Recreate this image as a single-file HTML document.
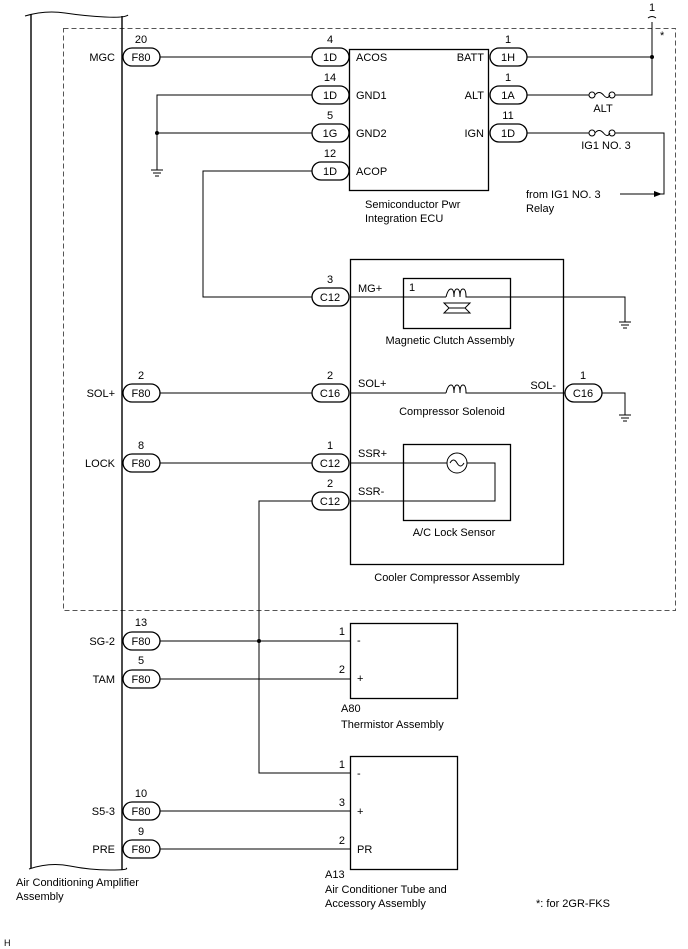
<!DOCTYPE html>
<html><head><meta charset="utf-8"><style>
html,body{margin:0;padding:0;background:#fff}
svg{display:block}
text{font-family:"Liberation Sans",Arial,sans-serif;font-size:11px;fill:#000}
.m{text-anchor:middle}.e{text-anchor:end}
</style></head><body>
<svg width="688" height="949" viewBox="0 0 688 949" xmlns="http://www.w3.org/2000/svg">
<defs>
<g id="pl"><rect x="0" y="-9" width="37" height="18" rx="9" fill="#fff" stroke="#000" stroke-width="1.3"/></g>
<g id="gnd"><line x1="0" y1="0" x2="0" y2="12" stroke="#000"/><line x1="-6" y1="12" x2="6" y2="12" stroke="#000"/><line x1="-4" y1="15" x2="4" y2="15" stroke="#000"/><line x1="-2" y1="18" x2="2" y2="18" stroke="#000"/></g>
</defs>
<g fill="none" stroke="#000">
<rect x="63.5" y="28.5" width="612" height="582" stroke-dasharray="5,3" stroke="#555"/>
<path d="M25 16 Q45 10 65 13 T105 17 T128 15" />
<path d="M29 869 Q50 862 70 866 T110 870 T126 868"/>
<line x1="31" y1="14" x2="31" y2="868" stroke-width="1.4"/>
<line x1="122" y1="16" x2="122" y2="870" stroke-width="1.4"/>
<rect x="349.5" y="49.5" width="139" height="141" stroke-width="1.3"/>
<line x1="160" y1="57" x2="312" y2="57"/>
<path d="M312 95 H157 V158"/>
<line x1="157" y1="133" x2="312" y2="133"/>
<path d="M312 171 H203 V297 H312"/>
<path d="M527 57 H652"/>
<path d="M652 22 V95 H615"/><line x1="527" y1="95" x2="589" y2="95"/>
<path d="M527 133 H589"/><path d="M615 133 H664 V194 H620"/>
<path d="M648 18 Q652 15 656 18" />
<rect x="350.5" y="259.5" width="213" height="305" stroke-width="1.3"/>
<rect x="403.5" y="278.5" width="107" height="50" stroke-width="1.3"/>
<path d="M350 297 H446 M468 297 H625 V320"/>
<path d="M446 297 q2 -8 5 -8 q3 0 3 8 q0 -8 3 -8 q3 0 3 8 q0 -8 3 -8 q3 0 3 8 q0 0 4 0"/>
<path d="M444 303 L470 303 L465 308 L470 313 L444 313 L449 308 Z"/>
<line x1="449" y1="308" x2="465" y2="308"/>
<path d="M160 393 H312 M350 393 H446 M468 393 H565 M601 393 H625 V408"/>
<path d="M446 393 q2 -8 5 -8 q3 0 3 8 q0 -8 3 -8 q3 0 3 8 q0 -8 3 -8 q3 0 3 8 q0 0 4 0"/>
<rect x="403.5" y="444.5" width="107" height="76" stroke-width="1.3"/>
<path d="M160 463 H312 M350 463 H447 M467 463 H495 V501 H350"/>
<circle cx="457" cy="463" r="10"/>
<path d="M450 463 q3.5 -6 7 0 q3.5 6 7 0"/>
<path d="M312 501 H259 V773 H350"/>
<rect x="350.5" y="623.5" width="107" height="75" stroke-width="1.3"/>
<path d="M160 641 H350 M160 679 H350"/>
<rect x="350.5" y="756.5" width="107" height="113" stroke-width="1.3"/>
<path d="M160 811 H350 M160 849 H350"/>
</g>
<g fill="#fff" stroke="#000">
<circle cx="592" cy="95" r="3"/><circle cx="612" cy="95" r="3"/>
<circle cx="592" cy="133" r="3"/><circle cx="612" cy="133" r="3"/>
</g>
<path d="M595 95 q4 -5 8.5 0 q4 5 6.5 0 M595 133 q4 -5 8.5 0 q4 5 6.5 0" fill="none" stroke="#000"/>
<polygon points="662,194 654,191 654,197" fill="#000"/>
<g fill="#000"><circle cx="652" cy="57" r="2"/><circle cx="157" cy="133" r="2"/><circle cx="259" cy="641" r="2"/></g>
<use href="#gnd" x="157" y="158"/><use href="#gnd" x="625" y="310"/><use href="#gnd" x="625" y="403"/>
<g>
<use href="#pl" x="123" y="57"/><use href="#pl" x="312" y="57"/><use href="#pl" x="312" y="95"/><use href="#pl" x="312" y="133"/><use href="#pl" x="312" y="171"/>
<use href="#pl" x="490" y="57"/><use href="#pl" x="490" y="95"/><use href="#pl" x="490" y="133"/>
<use href="#pl" x="312" y="297"/><use href="#pl" x="123" y="393"/><use href="#pl" x="312" y="393"/><use href="#pl" x="565" y="393"/>
<use href="#pl" x="123" y="463"/><use href="#pl" x="312" y="463"/><use href="#pl" x="312" y="501"/>
<use href="#pl" x="123" y="641"/><use href="#pl" x="123" y="679"/><use href="#pl" x="123" y="811"/><use href="#pl" x="123" y="849"/>
</g>
<g class="m">
<text x="141" y="61">F80</text><text x="330" y="61">1D</text><text x="330" y="99">1D</text><text x="330" y="137">1G</text><text x="330" y="175">1D</text>
<text x="508" y="61">1H</text><text x="508" y="99">1A</text><text x="508" y="137">1D</text>
<text x="330" y="301">C12</text><text x="141" y="397">F80</text><text x="330" y="397">C16</text><text x="583" y="397">C16</text>
<text x="141" y="467">F80</text><text x="330" y="467">C12</text><text x="330" y="505">C12</text>
<text x="141" y="645">F80</text><text x="141" y="683">F80</text><text x="141" y="815">F80</text><text x="141" y="853">F80</text>
<text x="141" y="43">20</text><text x="330" y="43">4</text><text x="330" y="81">14</text><text x="330" y="119">5</text><text x="330" y="157">12</text>
<text x="508" y="43">1</text><text x="508" y="81">1</text><text x="508" y="119">11</text>
<text x="330" y="283">3</text><text x="141" y="379">2</text><text x="330" y="379">2</text><text x="583" y="379">1</text>
<text x="141" y="449">8</text><text x="330" y="449">1</text><text x="330" y="487">2</text>
<text x="141" y="626">13</text><text x="141" y="664">5</text><text x="141" y="797">10</text><text x="141" y="835">9</text>
<text x="603" y="112">ALT</text><text x="606" y="149">IG1 NO. 3</text>
<text x="450" y="344">Magnetic Clutch Assembly</text><text x="452" y="415">Compressor Solenoid</text>
<text x="454" y="536">A/C Lock Sensor</text><text x="447" y="581">Cooler Compressor Assembly</text>
<text x="652" y="11">1</text>
</g>
<g class="e">
<text x="115" y="61">MGC</text><text x="115" y="397">SOL+</text><text x="115" y="467">LOCK</text><text x="115" y="645">SG-2</text><text x="115" y="683">TAM</text><text x="115" y="815">S5-3</text><text x="115" y="853">PRE</text>
<text x="484" y="61">BATT</text><text x="484" y="99">ALT</text><text x="484" y="137">IGN</text>
<text x="556" y="389">SOL-</text>
<text x="345" y="635">1</text><text x="345" y="673">2</text><text x="345" y="768">1</text><text x="345" y="806">3</text><text x="345" y="844">2</text>
</g>
<text x="356" y="61">ACOS</text><text x="356" y="99">GND1</text><text x="356" y="137">GND2</text><text x="356" y="175">ACOP</text>
<text x="365" y="208">Semiconductor Pwr</text><text x="365" y="222">Integration ECU</text>
<text x="526" y="198">from IG1 NO. 3</text><text x="526" y="212">Relay</text>
<text x="358" y="292">MG+</text><text x="409" y="291">1</text><text x="358" y="387">SOL+</text><text x="358" y="457">SSR+</text><text x="358" y="495">SSR-</text>
<text x="357" y="644">-</text><text x="357" y="682">+</text><text x="357" y="777">-</text><text x="357" y="815">+</text><text x="357" y="853">PR</text>
<text x="341" y="712">A80</text><text x="341" y="728">Thermistor Assembly</text>
<text x="325" y="878">A13</text><text x="325" y="893">Air Conditioner Tube and</text><text x="325" y="907">Accessory Assembly</text>
<text x="16" y="886">Air Conditioning Amplifier</text><text x="16" y="900">Assembly</text>
<text x="536" y="907">*: for 2GR-FKS</text><text x="660" y="39">*</text>
<text x="4" y="946" style="font-size:9px">H</text>
</svg>
</body></html>
